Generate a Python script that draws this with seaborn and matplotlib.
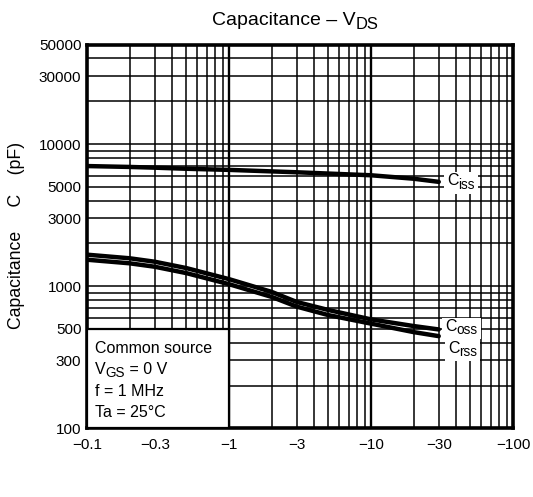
import numpy as np
import pandas as pd
import seaborn as sns
import matplotlib.pyplot as plt
from matplotlib.patches import Rectangle
from matplotlib.transforms import Bbox
from matplotlib.ticker import FixedLocator, NullFormatter

# 数据 (|VDS| in V, capacitance in pF)
vds = [0.1, 0.2, 0.3, 0.5, 1, 2, 3, 5, 10, 20, 30]
ciss = [7000, 6900, 6820, 6700, 6580, 6420, 6330, 6200, 6030, 5700, 5420]
coss = [1666, 1571, 1486, 1341, 1121, 911, 774, 680, 584, 524, 496]
crss = [1535, 1448, 1370, 1236, 1033, 840, 718, 626, 545, 475, 445]

x_ticks = [0.1, 0.3, 1, 3, 10, 30, 100]
x_labels = ['\u22120.1', '\u22120.3', '\u22121', '\u22123', '\u221210', '\u221230', '\u2212100']
y_ticks = [100, 300, 500, 1000, 3000, 5000, 10000, 30000, 50000]
y_labels = ['100', '300', '500', '1000', '3000', '5000', '10000', '30000', '50000']

df = pd.DataFrame({
    'VDS': vds * 3,
    'C': ciss + coss + crss,
    'curve': ['Ciss'] * len(vds) + ['Coss'] * len(vds) + ['Crss'] * len(vds),
})

# 设置绘图风格
sns.set_style('white')
plt.rcParams['font.family'] = ['Liberation Sans', 'DejaVu Sans']
for k in ['text.color', 'axes.labelcolor', 'xtick.color', 'ytick.color']:
    plt.rcParams[k] = 'black'


def rich_text(ax, x, y, parts, size, transform=None, zorder=5):
    # 手动拼接下标, 下标比 mathtext 的大一些
    t = ax.text(x, y, parts[0][0], fontsize=size, ha='left', va='baseline',
                transform=transform if transform is not None else ax.transData, zorder=zorder)
    arts = [t]
    prev, prev_sub = t, parts[0][1]
    for s, sub in parts[1:]:
        dy = 0
        if sub and not prev_sub:
            dy = -2.4
        elif prev_sub and not sub:
            dy = 2.4
        prev = ax.annotate(s, xy=(1, 0), xycoords=prev, xytext=(0, dy),
                           textcoords='offset points', fontsize=size * 0.85 if sub else size,
                           ha='left', va='bottom', zorder=zorder, annotation_clip=False)
        arts.append(prev)
        prev_sub = sub
    return arts


fig = plt.figure(figsize=(5.33, 4.97), dpi=100)
ax = fig.add_axes([87 / 533, 1 - 428.3 / 497, 426 / 533, (428.3 - 44.7) / 497])

sns.lineplot(data=df, x='VDS', y='C', hue='curve', units='curve', estimator=None,
             palette=['black'] * 3, linewidth=3.2, legend=False, ax=ax, zorder=4)

ax.set_xscale('log')
ax.set_yscale('log')
ax.set_xlim(0.1, 100)
ax.set_ylim(100, 50000)

ax.xaxis.set_major_locator(FixedLocator(x_ticks))
ax.set_xticklabels(x_labels)
ax.yaxis.set_major_locator(FixedLocator(y_ticks))
ax.set_yticklabels(y_labels)
minor_x = [m * 10.0 ** d for d in range(-1, 2) for m in range(1, 10)]
minor_y = [m * 10.0 ** d for d in range(2, 5) for m in range(1, 10) if m * 10.0 ** d <= 50000]
ax.xaxis.set_minor_locator(FixedLocator(minor_x))
ax.yaxis.set_minor_locator(FixedLocator(minor_y))
ax.xaxis.set_minor_formatter(NullFormatter())
ax.yaxis.set_minor_formatter(NullFormatter())
ax.tick_params(which='both', length=0, labelsize=11, colors='black')
ax.tick_params(axis='x', pad=7)
ax.tick_params(axis='y', pad=4)

ax.set_axisbelow(True)
ax.grid(which='both', color='black', linewidth=1.1)
for v in [1, 10]:
    ax.axvline(v, color='black', linewidth=1.7, zorder=1)
for s in ax.spines.values():
    s.set_linewidth(2.6)
    s.set_color('black')
ax.set_xlabel('')
ax.set_ylabel('')

# 条件说明框
ax.add_patch(Rectangle((0.1, 100), 0.9, 400, facecolor='white', edgecolor='black',
                       linewidth=1.6, zorder=3))
rich_text(ax, 0.1139, 340, [('Common source', False)], 11.5)
rich_text(ax, 0.1139, 242, [('V', False), ('GS', True), (' = 0 V', False)], 11.5)
rich_text(ax, 0.1139, 170, [('f = 1 MHz', False)], 11.5)
rich_text(ax, 0.1139, 121, [('Ta = 25\u00b0C', False)], 11.5)

# 曲线标签
label_groups = []
for lx, ly, sub in [(34.2, 5130, 'iss'), (33.2, 483, 'oss'), (34.8, 341, 'rss')]:
    label_groups.append(rich_text(ax, lx, ly, [('C', False), (sub, True)], 11.5))

# 标题和纵轴标签
rich_text(ax, 211.7 / 533, 1 - 25 / 497, [('Capacitance \u2013 V', False), ('DS', True)], 14,
          transform=fig.transFigure)
fig.text(17 / 533, 1 - 235 / 497, 'Capacitance     C    (pF)', fontsize=12.7,
         rotation=90, ha='center', va='center')

# 标签白底 (按文字实际范围)
fig.canvas.draw()
rend = fig.canvas.get_renderer()
inv = ax.transData.inverted()
for grp in label_groups:
    bb = Bbox.union([a.get_window_extent(rend) for a in grp])
    (x0, y0), (x1, y1) = inv.transform([(bb.x0 - 3, bb.y0 - 2), (bb.x1 + 3, bb.y1 + 1.5)])
    ax.add_patch(Rectangle((x0, y0), x1 - x0, y1 - y0, facecolor='white',
                           edgecolor='none', zorder=4.5))

fig.savefig('out.png', dpi=100)
